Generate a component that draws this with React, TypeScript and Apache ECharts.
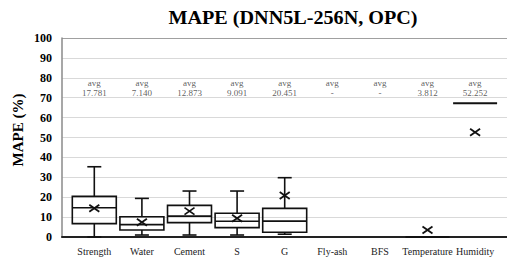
import React, { useEffect, useRef } from "react";
import * as echarts from "echarts";

const categories = ["Strength", "Water", "Cement", "S", "G", "Fly-ash", "BFS", "Temperature", "Humidity"];
const whiskerMin: (number | null)[] = [0, 1.0, 1.0, 1.0, 1.4, null, null, 0, 67.2];
const q1: (number | null)[] = [6.7, 3.5, 7.2, 4.7, 2.4, null, null, 0, 67.2];
const median: (number | null)[] = [14.7, 6.2, 10.5, 7.9, 8.0, null, null, 0, 67.2];
const q3: (number | null)[] = [20.4, 10.2, 15.9, 11.9, 14.4, null, null, 0, 67.2];
const whiskerMax: (number | null)[] = [35.3, 19.4, 23.1, 23.1, 29.8, null, null, 0, 67.2];
const means: (number | null)[] = [14.5, 7.4, 13.0, 9.4, 20.8, null, null, 3.5, 52.6];
const avgLabels = ["17.781", "7.140", "12.873", "9.091", "20.451", "-", "-", "3.812", "52.252"];
const avgLabelY = 75;
const titleText = "MAPE (DNN5L-256N, OPC)";
const yAxisTitle = "MAPE (%)";

const SERIF = "Liberation Serif";

export default function App() {
  const ref = useRef<HTMLDivElement>(null);
  useEffect(() => {
    if (!ref.current) return;
    const chart = echarts.init(ref.current, null, { renderer: "svg" });

    const boxData: number[][] = [];
    categories.forEach((_, i) => {
      if (whiskerMin[i] == null) return;
      boxData.push([i, whiskerMin[i] as number, q1[i] as number, median[i] as number, q3[i] as number, whiskerMax[i] as number]);
    });
    const meanData: number[][] = [];
    categories.forEach((_, i) => {
      if (means[i] == null) return;
      meanData.push([i, means[i] as number]);
    });

    const splitColors = Array.from({ length: 11 }, (_, k) => (k === 10 ? "#a0a0a0" : "#d9d9d9"));

    chart.setOption({
      animation: false,
      graphic: [
        {
          type: "text",
          x: 293,
          y: 9,
          scaleX: 1.12,
          style: {
            text: titleText,
            fontFamily: SERIF,
            fontWeight: "bold",
            fontSize: 18,
            fill: "#000",
            textAlign: "center",
            textVerticalAlign: "top",
          },
        },
        {
          type: "text",
          x: 18,
          y: 130,
          rotation: Math.PI / 2,
          style: {
            text: yAxisTitle,
            fontFamily: SERIF,
            fontWeight: "bold",
            fontSize: 15,
            fill: "#000",
            textAlign: "center",
            textVerticalAlign: "middle",
          },
        },
      ],
      grid: [
        { left: 62, right: 0, top: 38, bottom: 20, containLabel: false },
        { left: 70.5, width: 428.4, top: 38, bottom: 20, containLabel: false },
      ],
      xAxis: [
        {
          type: "value",
          gridIndex: 0,
          min: 0,
          max: 1,
          axisLine: { show: true, lineStyle: { color: "#222", width: 2 } },
          axisTick: { show: false },
          axisLabel: { show: false },
          splitLine: { show: false },
        },
        {
          type: "category",
          gridIndex: 1,
          data: categories,
          axisLine: { show: false },
          axisTick: { show: false },
          axisLabel: { margin: 9, fontFamily: SERIF, fontSize: 10, color: "#222", interval: 0 },
        },
      ],
      yAxis: [
        {
          type: "value",
          gridIndex: 0,
          min: 0,
          max: 100,
          interval: 10,
          axisLine: { show: true, lineStyle: { color: "#8a8a8a", width: 1.5 } },
          axisTick: { show: false },
          axisLabel: { margin: 10, fontFamily: SERIF, fontWeight: "bold", fontSize: 12, color: "#000" },
          splitLine: { show: true, lineStyle: { color: splitColors, width: 1.2 } },
        },
        {
          type: "value",
          gridIndex: 1,
          min: 0,
          max: 100,
          show: false,
          splitLine: { show: false },
        },
      ],
      series: [
        {
          type: "custom",
          xAxisIndex: 1,
          yAxisIndex: 1,
          data: boxData,
          encode: { x: 0, y: [1, 2, 3, 4, 5] },
          renderItem: (params: any, api: any) => {
            const i = api.value(0);
            const band = api.size([1, 0])[0];
            const halfW = band * 0.462;
            const capHalf = 7;
            const pMin = api.coord([i, api.value(1)]);
            const pQ1 = api.coord([i, api.value(2)]);
            const pMed = api.coord([i, api.value(3)]);
            const pQ3 = api.coord([i, api.value(4)]);
            const pMax = api.coord([i, api.value(5)]);
            const cx = pMin[0];
            const stroke = { stroke: "#111", lineWidth: 1.6, fill: null };
            const children: any[] = [];
            if (Math.abs(pQ1[1] - pQ3[1]) < 0.5) {
              children.push({
                type: "line",
                shape: { x1: cx - halfW, y1: pMed[1], x2: cx + halfW, y2: pMed[1] },
                style: { stroke: "#111", lineWidth: 2 },
              });
            } else {
              children.push(
                { type: "line", shape: { x1: cx, y1: pQ3[1], x2: cx, y2: pMax[1] }, style: stroke },
                { type: "line", shape: { x1: cx - capHalf, y1: pMax[1], x2: cx + capHalf, y2: pMax[1] }, style: stroke },
                { type: "line", shape: { x1: cx, y1: pQ1[1], x2: cx, y2: pMin[1] }, style: stroke },
                { type: "line", shape: { x1: cx - capHalf, y1: pMin[1], x2: cx + capHalf, y2: pMin[1] }, style: stroke },
                {
                  type: "rect",
                  shape: { x: cx - halfW, y: pQ3[1], width: halfW * 2, height: pQ1[1] - pQ3[1] },
                  style: { stroke: "#111", lineWidth: 1.6, fill: "rgba(255,255,255,0)" },
                },
                { type: "line", shape: { x1: cx - halfW, y1: pMed[1], x2: cx + halfW, y2: pMed[1] }, style: stroke }
              );
            }
            return { type: "group", children };
          },
          z: 3,
        },
        {
          type: "custom",
          xAxisIndex: 1,
          yAxisIndex: 1,
          data: meanData,
          encode: { x: 0, y: 1 },
          renderItem: (params: any, api: any) => {
            const p = api.coord([api.value(0), api.value(1)]);
            const hw = 5;
            const hh = 3.5;
            const st = { stroke: "#111", lineWidth: 1.8 };
            return {
              type: "group",
              children: [
                { type: "line", shape: { x1: p[0] - hw, y1: p[1] - hh, x2: p[0] + hw, y2: p[1] + hh }, style: st },
                { type: "line", shape: { x1: p[0] - hw, y1: p[1] + hh, x2: p[0] + hw, y2: p[1] - hh }, style: st },
              ],
            };
          },
          z: 4,
        },
        {
          type: "scatter",
          xAxisIndex: 1,
          yAxisIndex: 1,
          symbolSize: 0,
          data: categories.map((_, i) => [i, avgLabelY]),
          label: {
            show: true,
            position: "inside",
            formatter: (p: any) => "avg\n" + avgLabels[p.dataIndex],
            fontFamily: SERIF,
            fontSize: 9,
            lineHeight: 10,
            color: "#333",
          },
          silent: true,
          z: 5,
        },
      ],
    });
    return () => chart.dispose();
  }, []);
  return <div ref={ref} style={{ width: 507, height: 257, position: "absolute", left: 0, top: 0 }} />;
}
